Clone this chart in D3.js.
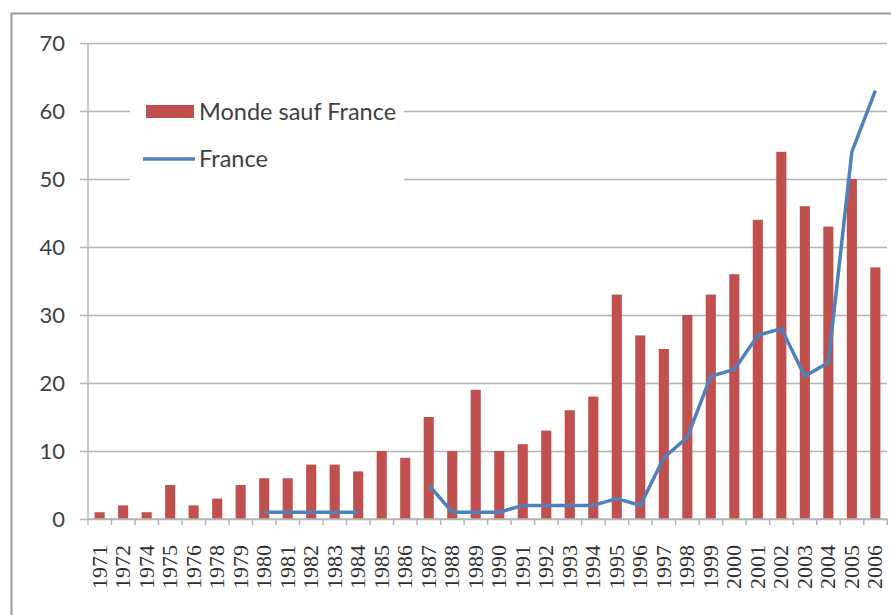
<!DOCTYPE html>
<html>
<head>
<meta charset="utf-8">
<script src="https://cdn.jsdelivr.net/npm/d3@7"></script>
<style>
  body { margin: 0; background: #fff; }
  svg { display: block; }
</style>
</head>
<body>
<div id="chart"></div>
<script>
'use strict';

const years = ["1971","1972","1974","1975","1976","1978","1979","1980","1981","1982","1983","1984",
  "1985","1986","1987","1988","1989","1990","1991","1992","1993","1994","1995","1996","1997",
  "1998","1999","2000","2001","2002","2003","2004","2005","2006"];
const monde = [1,2,1,5,2,3,5,6,6,8,8,7,10,9,15,10,19,10,11,13,16,18,33,27,25,30,33,36,44,54,46,43,50,37];
// null = no value for France that year
const france = [null,null,null,null,null,null,null,1,1,1,1,1,null,null,5,1,1,1,2,2,2,2,3,2,9,12,21,22,27,28,21,23,54,63];
const yTicks = [0,10,20,30,40,50,60,70];
const seriesNames = ["Monde sauf France", "France"];

const msm = {
  width: 891,
  height: 615,
  left: 88,
  right: 887,
  top: 43,
  bottom: 519
};

const svg = d3.select('#chart')
  .append('svg')
  .attr('width', msm.width)
  .attr('height', msm.height);

// outer frame (left and top edges visible)
svg.append('path')
  .attr('d', 'M11.5,' + msm.height + 'V13.5H' + msm.width)
  .attr('fill', 'none')
  .attr('stroke', '#9a9a9a')
  .attr('stroke-width', 2);

let xScale = d3.scaleBand()
  .domain(years)
  .range([msm.left, msm.right])
  .paddingInner(0.57)
  .paddingOuter(0.28);

let yScale = d3.scaleLinear()
  .domain([0, 70])
  .range([msm.bottom, msm.top]);

// gridlines + y labels
let yAxis = d3.axisLeft(yScale)
  .tickValues(yTicks)
  .tickSize(-(msm.right - msm.left + 8));
let gy = svg.append('g')
  .attr('transform', 'translate(' + msm.left + ',0)')
  .call(yAxis);
gy.select('.domain').remove();
gy.selectAll('.tick line')
  .attr('x1', -8)
  .attr('x2', msm.right - msm.left)
  .attr('stroke', '#b4b4b4')
  .attr('stroke-width', 1.5);
gy.selectAll('.tick text')
  .attr('x', -23)
  .style('font-family', 'Lato, sans-serif')
  .style('font-size', '22px')
  .attr('fill', '#404040');

// vertical axis line
svg.append('line')
  .attr('x1', msm.left).attr('x2', msm.left)
  .attr('y1', msm.top).attr('y2', msm.bottom)
  .attr('stroke', '#b4b4b4')
  .attr('stroke-width', 1.5);

// bars
svg.selectAll('.bar')
  .data(years)
  .enter()
  .append('rect')
    .attr('class', 'bar')
    .attr('x', (d) => xScale(d))
    .attr('width', xScale.bandwidth())
    .attr('y', (d, i) => yScale(monde[i]))
    .attr('height', (d, i) => yScale(0) - yScale(monde[i]))
    .attr('fill', '#c0504d');

// x axis with ticks between categories
let step = xScale.step();
let gx = svg.append('g')
  .attr('transform', 'translate(0,' + msm.bottom + ')');
gx.append('line')
  .attr('x1', msm.left).attr('x2', msm.right)
  .attr('stroke', '#b4b4b4')
  .attr('stroke-width', 1.5);
gx.selectAll('.xtick')
  .data(d3.range(years.length + 1))
  .enter()
  .append('line')
    .attr('x1', (i) => msm.left + i * step)
    .attr('x2', (i) => msm.left + i * step)
    .attr('y1', 0).attr('y2', 6)
    .attr('stroke', '#b4b4b4')
    .attr('stroke-width', 1.5);
gx.selectAll('.xlabel')
  .data(years)
  .enter()
  .append('text')
    .attr('transform', (d) => 'translate(' + (xScale(d) + xScale.bandwidth() / 2 + 7) + ',26) rotate(-90)')
    .attr('text-anchor', 'end')
    .style('font-family', '"Liberation Serif", serif')
    .style('font-size', '22px')
    .attr('fill', '#303030')
    .text((d) => d);

// France line (gaps where no value)
let line = d3.line()
  .defined((d) => d != null)
  .x((d, i) => xScale(years[i]) + xScale.bandwidth() / 2)
  .y((d) => yScale(d));
svg.append('path')
  .datum(france)
  .attr('fill', 'none')
  .attr('stroke', '#4f81bd')
  .attr('stroke-width', 3.5)
  .attr('stroke-linejoin', 'round')
  .attr('d', line);

// legend
let legend = svg.append('g');
legend.append('rect')
  .attr('x', 130).attr('y', 88)
  .attr('width', 274).attr('height', 106)
  .attr('fill', '#fff');
legend.append('rect')
  .attr('x', 146).attr('y', 105)
  .attr('width', 48).attr('height', 13)
  .attr('fill', '#c0504d');
legend.append('line')
  .attr('x1', 143).attr('x2', 195)
  .attr('y1', 159).attr('y2', 159)
  .attr('stroke', '#4f81bd')
  .attr('stroke-width', 3.5);
legend.selectAll('.ltext')
  .data(seriesNames)
  .enter()
  .append('text')
    .attr('x', 199)
    .attr('y', (d, i) => 120 + i * 47)
    .style('font-family', 'Lato, sans-serif')
    .style('font-size', '23.5px')
    .attr('fill', '#404040')
    .text((d) => d);
</script>
</body>
</html>
